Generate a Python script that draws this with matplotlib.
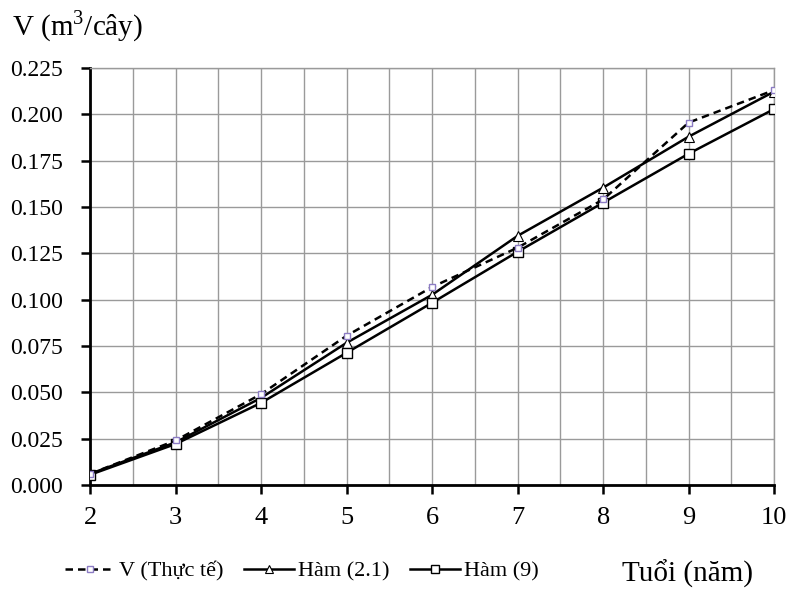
import numpy as np
import matplotlib.pyplot as plt
from matplotlib.ticker import MultipleLocator

# data
tuoi = [2, 3, 4, 5, 6, 7, 8, 9, 10]
v_thuc_te = [0.0060, 0.0240, 0.0490, 0.0805, 0.1068, 0.1280, 0.1540, 0.1955, 0.2130]
ham_21 = [0.0060, 0.0230, 0.0470, 0.0767, 0.1026, 0.1344, 0.1604, 0.1879, 0.2122]
ham_9 = [0.0055, 0.0221, 0.0443, 0.0713, 0.0983, 0.1258, 0.1523, 0.1787, 0.2028]

x_ticks = [2, 3, 4, 5, 6, 7, 8, 9, 10]
y_ticks = [0.000, 0.025, 0.050, 0.075, 0.100, 0.125, 0.150, 0.175, 0.200, 0.225]

plt.rcParams['font.family'] = ['Liberation Serif', 'DejaVu Serif']
plt.rcParams['mathtext.fontset'] = 'custom'
plt.rcParams['mathtext.rm'] = 'Liberation Serif'

fig = plt.figure(figsize=(7.9, 5.9), dpi=100)
ax = fig.add_axes([0.114, 0.178, 0.866, 0.707])

ax.plot(tuoi, v_thuc_te, color='black', linestyle=(0, (3, 2)), linewidth=1.8,
        marker='s', markersize=5, markerfacecolor='white', markeredgecolor='#8c7cc4',
        markeredgewidth=1.0, label='V (Thực tế)', zorder=4)
ax.plot(tuoi, ham_21, color='black', linewidth=1.8,
        marker='^', markersize=7, markerfacecolor='white', markeredgecolor='black',
        markeredgewidth=0.8, label='Hàm (2.1)', zorder=3)
ax.plot(tuoi, ham_9, color='black', linewidth=1.8,
        marker='s', markersize=7, markerfacecolor='white', markeredgecolor='black',
        markeredgewidth=1.0, label='Hàm (9)', zorder=3)

ax.set_xlim(2, 10)
ax.set_ylim(0, 0.225)
ax.set_xticks(x_ticks)
ax.set_yticks(y_ticks)
ax.set_yticklabels([f'{v:.3f}' for v in y_ticks])
ax.xaxis.set_minor_locator(MultipleLocator(0.5))

ax.grid(True, which='both', color='#9a9a9a', linewidth=1.0)
ax.set_axisbelow(True)
ax.tick_params(axis='both', which='major', direction='out',
               length=6.5, width=1.8, color='black')
ax.tick_params(axis='y', labelsize=17, pad=13)
ax.tick_params(axis='x', labelsize=19, pad=9)
ax.tick_params(axis='x', which='minor', length=0)

for side in ['left', 'bottom']:
    ax.spines[side].set_linewidth(2)
    ax.spines[side].set_color('black')
for side in ['top', 'right']:
    ax.spines[side].set_linewidth(1)
    ax.spines[side].set_color('#9a9a9a')

fig.text(0.015, 0.941, 'V (m$^3$/cây)', fontsize=21, ha='left', va='baseline')
fig.text(0.953, 0.0136, 'Tuổi (năm)', fontsize=21, ha='right', va='baseline')

leg = fig.legend(loc='center left', bbox_to_anchor=(0.082, 0.032), ncol=3,
                 frameon=False, fontsize=16, handlelength=2.25, handletextpad=0.2,
                 columnspacing=0.9, borderpad=0, borderaxespad=0, markerscale=0.8)

fig.savefig('out.png', dpi=100)
